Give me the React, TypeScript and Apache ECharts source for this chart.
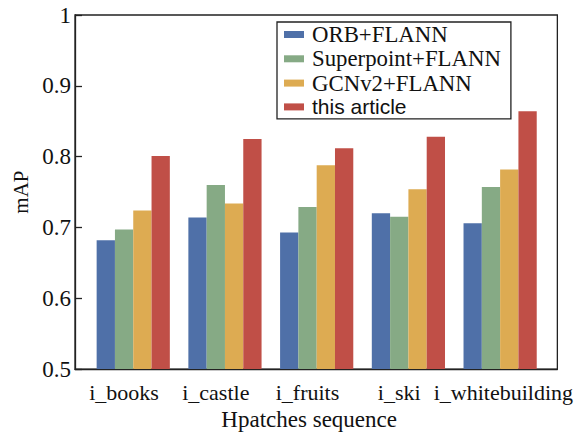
import React, { useEffect, useRef } from "react";
import * as echarts from "echarts";

const categories = ["i_books", "i_castle", "i_fruits", "i_ski", "i_whitebuilding"];
const labelPositions = [-0.1, 0.9, 1.9, 2.9, 4.035];
const seriesNames = ["ORB+FLANN", "Superpoint+FLANN", "GCNv2+FLANN", "this article"];
const orbValues = [0.682, 0.714, 0.693, 0.72, 0.706];
const superpointValues = [0.697, 0.76, 0.729, 0.715, 0.757];
const gcnValues = [0.724, 0.734, 0.788, 0.754, 0.782];
const oursValues = [0.801, 0.825, 0.812, 0.828, 0.864];
const colors = ["#4f70a8", "#86aa85", "#ddab52", "#c04f47"];

const SERIF = "'Liberation Serif', 'Times New Roman', serif";
const SANS = "'Liberation Sans', Arial, sans-serif";

export default function App() {
  const ref = useRef<HTMLDivElement>(null);
  useEffect(() => {
    if (!ref.current) return;
    const chart = echarts.init(ref.current, undefined, { renderer: "svg" });
    const allValues = [orbValues, superpointValues, gcnValues, oursValues];
    chart.setOption({
      animation: false,
      backgroundColor: "#ffffff",
      textStyle: { fontFamily: SERIF, color: "#111" },
      grid: {
        left: 75,
        top: 15,
        width: 483,
        height: 358,
        show: true,
        borderColor: "#222",
        borderWidth: 1.3,
        backgroundColor: "transparent",
      },
      legend: {
        orient: "vertical",
        left: 277,
        top: 22,
        padding: [1, 10, 1, 7],
        itemWidth: 20,
        itemHeight: 7,
        itemGap: 1.3,
        borderColor: "#222",
        borderWidth: 1.3,
        backgroundColor: "#fff",
        icon: "rect",
        textStyle: { fontFamily: SERIF, fontSize: 22.8, color: "#111", lineHeight: 22, padding: [0, 0, 0, 3] },
        data: seriesNames.map((n, i) =>
          i === 3
            ? { name: n, textStyle: { fontFamily: SANS, fontSize: 21 } }
            : { name: n }
        ),
      },
      xAxis: {
        type: "value",
        min: -0.635,
        max: 4.624,
        name: "Hpatches sequence",
        nameLocation: "middle",
        nameGap: 26,
        nameTextStyle: { fontFamily: SERIF, fontSize: 23, color: "#111", padding: [0, 14, 0, 0] },
        axisLine: { show: true, onZero: false, lineStyle: { color: "#222", width: 1.3 } },
        axisTick: { show: false },
        splitLine: { show: false },
        axisLabel: {
          customValues: labelPositions,
          formatter: (v: number) => categories[Math.abs(Math.round(v))],
          fontFamily: SERIF,
          fontSize: 22,
          color: "#111",
          margin: 12,
          hideOverlap: false,
        },
      },
      yAxis: {
        type: "value",
        min: 0.5,
        max: 1,
        interval: 0.1,
        name: "mAP",
        nameLocation: "middle",
        nameGap: 42,
        nameRotate: 90,
        nameTextStyle: { fontFamily: SERIF, fontSize: 21, color: "#111" },
        axisLine: { show: true, onZero: false, lineStyle: { color: "#222", width: 1.3 } },
        axisTick: { show: true, inside: true, length: 7, lineStyle: { color: "#222", width: 1.3 } },
        splitLine: { show: false },
        axisLabel: {
          fontFamily: SERIF,
          fontSize: 23,
          color: "#111",
          margin: 4,
          formatter: (v: number) => String(Math.round(v * 10) / 10),
        },
      },
      series: seriesNames.map((n, i) => ({
        name: n,
        type: "bar",
        barWidth: 18.3,
        barGap: "0%",
        itemStyle: { color: colors[i] },
        data: allValues[i].map((v, j) => [j, v]),
      })),
    });
    return () => chart.dispose();
  }, []);
  return (
    <div
      ref={ref}
      style={{ position: "fixed", left: 0, top: 0, width: 576, height: 436 }}
    />
  );
}
